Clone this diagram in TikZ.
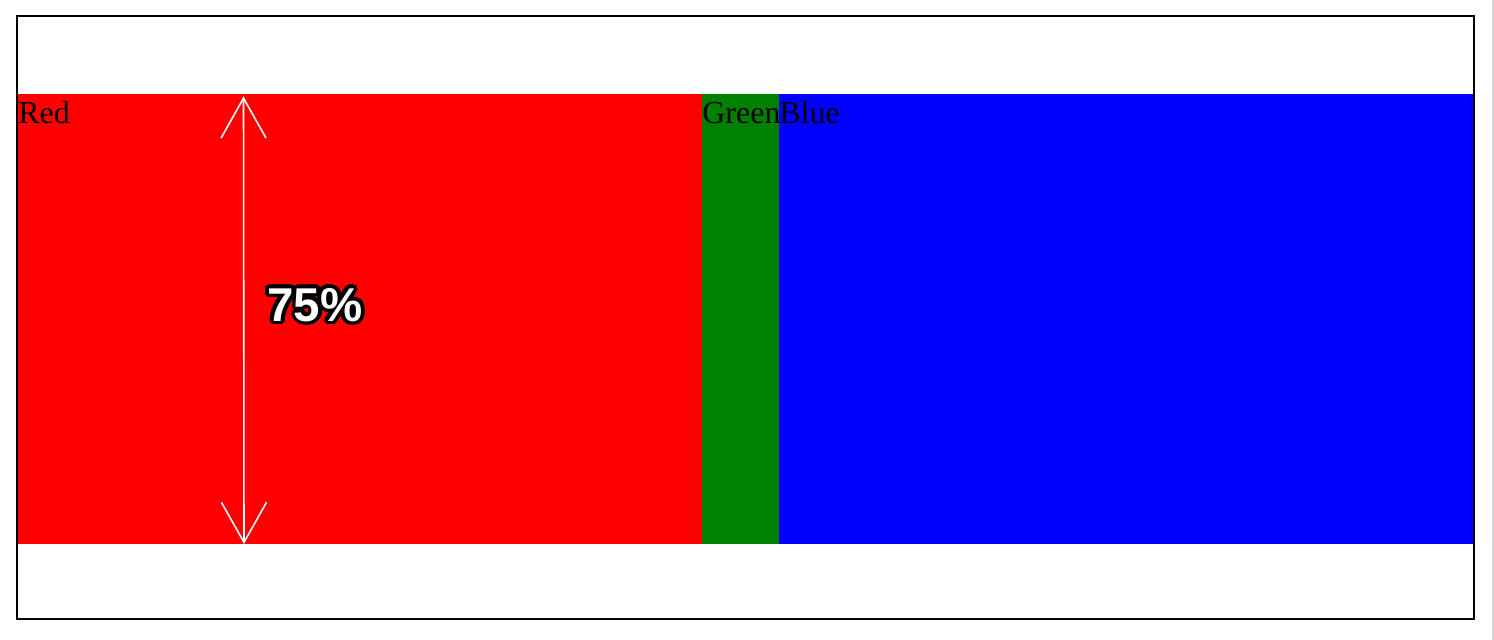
\documentclass[tikz,border=0pt]{standalone}
\usepackage{fontspec}
\setmainfont{Liberation Serif}
\newfontfamily\pctfont{Liberation Sans}
\usepackage{xcolor}
\usepackage{tikz}
\usetikzlibrary{arrows.meta, calc}

\begin{document}
\begin{tikzpicture}[
  blk/.style  = {minimum height=9.0cm, inner sep=0pt, outer sep=0pt,
                 anchor=north west},
  lbl/.style  = {font=\fontsize{18.2}{20}\selectfont, inner sep=0pt,
                 anchor=base west},
  harr/.style = {{Straight Barb[length=0.8cm,width=0.9cm]}-{Straight Barb[length=0.8cm,width=0.9cm]},
                 white, line width=0.9pt},
  pct/.style  = {font=\pctfont\bfseries\fontsize{27}{30}\selectfont,
                 inner sep=0pt},
]
\useasboundingbox (0,0) rectangle (29.88,-12.80);
\fill[gray!30] (29.83,0) rectangle (29.88,-12.80);

%% ── blocks ──────────────────────────────────────────────────────────────────
\node[blk, fill=red,           minimum width=13.68cm] (red)   at (0.36,-1.88) {};
\node[blk, fill=green!50!black, minimum width=1.54cm] (green) at (red.north east) {};
\node[blk, fill=blue,          minimum width=13.90cm] (blue)  at (green.north east) {};

\node[lbl] (redlbl)   at ($(red.north west)+(0,-0.59)$)   {Red};
\node[lbl] (greenlbl) at ($(green.north west)+(0,-0.59)$) {Green};
\node[lbl] (bluelbl)  at ($(blue.north west)+(0,-0.59)$)  {Blue};

%% ── frame ───────────────────────────────────────────────────────────────────
\draw[line width=1.1pt] (0.34,-0.32) rectangle (29.48,-12.38);

%% ── height arrow ────────────────────────────────────────────────────────────
\coordinate (arrtop) at (4.87,-1.93);
\coordinate (arrbot) at (4.88,-10.88);
\draw[harr] (arrtop) -- (arrbot);

\coordinate (pctpos) at (6.30,-6.10);
\node[pct, text=black!60] (pctshadow) at ($(pctpos)+(0.05,-0.06)$) {75\%};
\foreach \a in {0,20,...,340}
  \node[pct, text=black] (halo\a) at ($(pctpos)+(\a:0.075)$) {75\%};
\node[pct, text=white] (pctlbl) at (pctpos) {75\%};

\end{tikzpicture}
\end{document}
